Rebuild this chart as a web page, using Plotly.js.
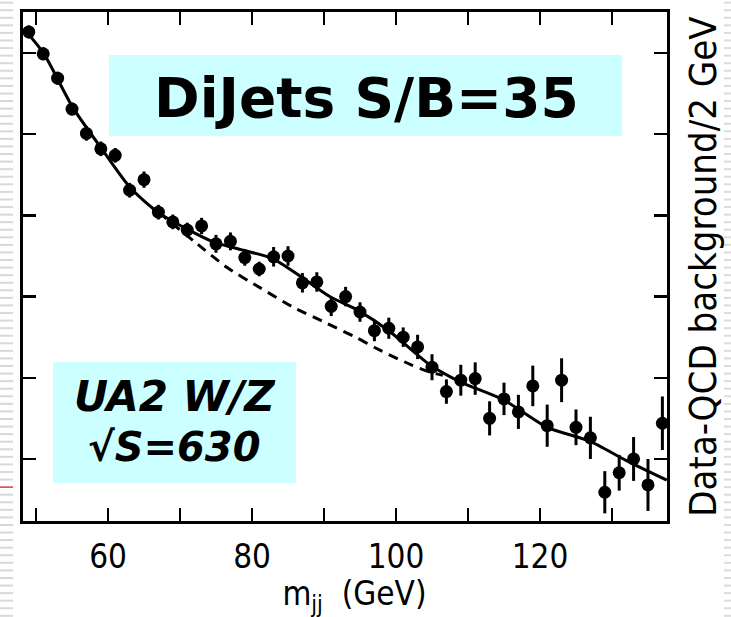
<!DOCTYPE html>
<html>
<head>
<meta charset="utf-8">
<script src="https://cdn.plot.ly/plotly-3.0.1.min.js"></script>
<style>html,body{margin:0;padding:0;background:#fff;}#chart{width:731px;height:617px;}</style>
</head>
<body>
<div id="chart"></div>
<script>
// ---- data (arbitrary units per 2 GeV) ----
const massBins = [49,51,53,55,57,59,61,63,65,67,69,71,73,75,77,79,81,83,85,87,89,91,93,95,97,99,101,103,105,107,109,111,113,115,117,119,121,123,125,127,129,131,133,135,137];
const counts = [6.26,5.99,5.69,5.31,5.01,4.82,4.74,4.31,4.44,4.04,3.92,3.82,3.87,3.65,3.68,3.48,3.34,3.49,3.50,3.17,3.18,2.88,3.00,2.81,2.58,2.61,2.50,2.38,2.13,1.83,1.97,1.99,1.50,1.74,1.58,1.90,1.41,1.97,1.39,1.26,0.59,0.83,1.00,0.68,1.44];
const countErrors = [0.08,0.08,0.08,0.08,0.09,0.09,0.09,0.09,0.10,0.09,0.09,0.09,0.10,0.11,0.11,0.10,0.09,0.12,0.12,0.12,0.12,0.12,0.12,0.12,0.13,0.13,0.12,0.15,0.16,0.15,0.19,0.20,0.21,0.20,0.21,0.25,0.26,0.27,0.22,0.26,0.26,0.22,0.27,0.32,0.33];

const fitMass = [48.3,51.1,55.1,59.2,63.1,66.9,71.0,74.7,78.8,82.8,86.7,90.8,94.7,99.0,104.7,108.9,114.9,121.0,126.9,132.0,137.6];
const fitTotal = [6.30,5.99,5.33,4.81,4.34,4.04,3.83,3.67,3.57,3.47,3.25,3.00,2.83,2.58,2.16,1.95,1.73,1.39,1.22,0.98,0.74];

const bgMass = [67.0,72.1,76.5,81.1,85.7,90.4,94.6,97.1,99.6,102.1,104.7,106.5];
const bgOnly = [4.04,3.67,3.36,3.11,2.87,2.67,2.49,2.37,2.26,2.16,2.07,2.03];

const xTickVals = [60,80,100,120];
const xTickText = ['60','80','100','120'];
const xMinorTickVals = [50,70,90,110,130];
const yTickVals = [1,2,3,4,5,6];

// ---- geometry helpers (pixel -> paper) ----
const W = 731, H = 617, ML = 23, MR = 64, MT = 12, MB = 96;
const PW = W - ML - MR, PH = H - MT - MB;
const px = x => (x - ML) / PW;
const py = y => (H - MB - y) / PH;

const condensed = 'DejaVu Sans Condensed, Liberation Sans Narrow, sans-serif';

const traces = [
  {
    x: fitMass, y: fitTotal, type: 'scatter', mode: 'lines',
    line: {color: 'black', width: 3, shape: 'spline', smoothing: 0.7},
    hoverinfo: 'skip'
  },
  {
    x: bgMass, y: bgOnly, type: 'scatter', mode: 'lines',
    line: {color: 'black', width: 3, dash: '10px,7px', shape: 'spline', smoothing: 0.6},
    hoverinfo: 'skip'
  },
  {
    x: massBins, y: counts, type: 'scatter', mode: 'markers',
    marker: {color: 'black', size: 13},
    error_y: {type: 'data', array: countErrors, visible: true, thickness: 3, width: 0, color: 'black'},
    cliponaxis: false
  }
];

const shapes = [];
// notebook-style stripes of the slide background
for (let k = -60; k < 30; k++) {
  const y = 441.7 + k * 7.57;
  if (y < 1 || y > 616) continue;
  const red = (k === 6);
  shapes.push({type: 'line', xref: 'paper', yref: 'paper', x0: px(0), x1: px(13), y0: py(y), y1: py(y),
    line: {color: red ? '#d04040' : '#d8d8d8', width: red ? 1.5 : 2}});
  shapes.push({type: 'line', xref: 'paper', yref: 'paper', x0: px(724), x1: px(731), y0: py(y), y1: py(y),
    line: {color: '#dcdcdc', width: 2}});
}
// cyan label boxes
shapes.push({type: 'rect', xref: 'paper', yref: 'paper', x0: px(109), x1: px(622), y0: py(136), y1: py(55),
  fillcolor: '#ccffff', line: {width: 0}, layer: 'above'});
shapes.push({type: 'rect', xref: 'paper', yref: 'paper', x0: px(53), x1: px(296), y0: py(483), y1: py(362),
  fillcolor: '#ccffff', line: {width: 0}, layer: 'above'});

const boxFont = {family: 'DejaVu Sans, sans-serif', color: 'black'};
const annotations = [
  {xref: 'paper', yref: 'paper', x: px(366), y: py(98), xanchor: 'center', yanchor: 'middle', showarrow: false,
    text: '<b>DiJets S/B=35</b>', font: Object.assign({size: 55}, boxFont)},
  {xref: 'paper', yref: 'paper', x: px(175), y: py(396), xanchor: 'center', yanchor: 'middle', showarrow: false,
    text: '<b><i>UA2 W/Z</i></b>', font: Object.assign({size: 42}, boxFont)},
  {xref: 'paper', yref: 'paper', x: px(174), y: py(447), xanchor: 'center', yanchor: 'middle', showarrow: false,
    text: '<b><i>√S=630</i></b>', font: Object.assign({size: 40}, boxFont)}
];

const tickStyle = {ticks: 'inside', ticklen: 13, tickwidth: 2.5, tickcolor: 'black'};

const layout = {
  width: W, height: H,
  margin: {l: ML, r: MR, t: MT, b: MB, pad: 0},
  paper_bgcolor: 'white', plot_bgcolor: 'white',
  showlegend: false,
  xaxis: Object.assign({
    range: [48.19, 137.64], tickmode: 'array', tickvals: xTickVals, ticktext: xTickText,
    minor: Object.assign({tickmode: 'array', tickvals: xMinorTickVals, showgrid: false}, tickStyle),
    showline: true, linewidth: 3, linecolor: 'black', mirror: 'ticks',
    showgrid: false, zeroline: false,
    tickfont: {family: 'Liberation Sans Narrow, DejaVu Sans Condensed, sans-serif', size: 33, color: 'black'},
    ticklabelstandoff: 4,
    title: {text: '&nbsp;&nbsp;m<sub>jj</sub>&nbsp;&nbsp;(GeV)', font: {family: condensed, size: 33, color: 'black'}, standoff: 4},
    automargin: false
  }, tickStyle),
  yaxis: Object.assign({
    range: [0.236, 6.505], side: 'right', tickmode: 'array', tickvals: yTickVals,
    showline: true, linewidth: 3, linecolor: 'black', mirror: 'ticks',
    showgrid: false, zeroline: false, showticklabels: false,
    title: {text: 'Data-QCD background/2 GeV', font: {family: condensed, size: 38, color: 'black'}, standoff: 21},
    automargin: false
  }, tickStyle),
  shapes: shapes,
  annotations: annotations
};

Plotly.newPlot('chart', traces, layout, {displayModeBar: false, staticPlot: true});
</script>
</body>
</html>
